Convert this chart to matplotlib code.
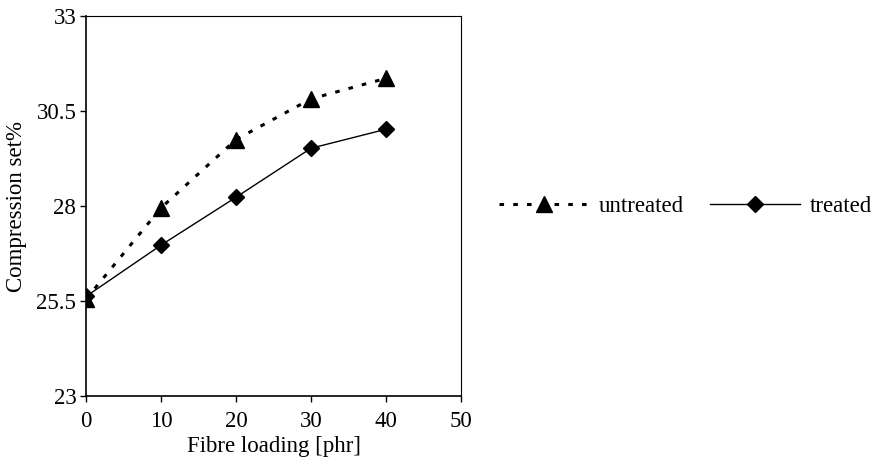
import numpy as np
import matplotlib
matplotlib.use('Agg')
import matplotlib.pyplot as plt

plt.rcParams['font.family'] = ['Liberation Serif', 'DejaVu Serif']

# datos
carga = [0, 10, 20, 30, 40]
sin_tratar = [25.55, 27.95, 29.75, 30.82, 31.36]
tratado = [25.62, 26.97, 28.23, 29.52, 30.02]

fig = plt.figure(figsize=(8.84, 4.63), dpi=100)
ax = fig.add_axes([0.0973, 0.1447, 0.4242, 0.8207])

ax.plot(carga, sin_tratar, color='black', linestyle=(0, (1.5, 3)), linewidth=2.2,
        marker='^', markersize=11, label='untreated')
ax.plot(carga, tratado, color='black', linestyle='-', linewidth=1,
        marker='D', markersize=8, label='treated')

ax.set_xlim(0, 50)
ax.set_ylim(23, 33)
ax.set_xticks([0, 10, 20, 30, 40, 50])
ax.set_yticks([23, 25.5, 28, 30.5, 33])
ax.set_yticklabels(['23', '25.5', '28', '30.5', '33'])
ax.tick_params(direction='out', length=4, width=1, labelsize=16.5)
ax.tick_params(axis='x', pad=7)
ax.tick_params(axis='y', pad=3)
for s in ['top', 'right']:
    ax.spines[s].set_linewidth(0.8)
for s in ['left', 'bottom']:
    ax.spines[s].set_linewidth(1.2)

ax.set_xlabel('Fibre loading [phr]', fontsize=16.5, labelpad=3)
ax.set_ylabel('Compression set%', fontsize=16.5, labelpad=7)

fig.legend(loc='center left', bbox_to_anchor=(0.5414, 0.555), ncol=2, frameon=False,
           fontsize=16.5, handlelength=3.9, handletextpad=0.45, columnspacing=1.15)

fig.savefig('out.png', dpi=100)
